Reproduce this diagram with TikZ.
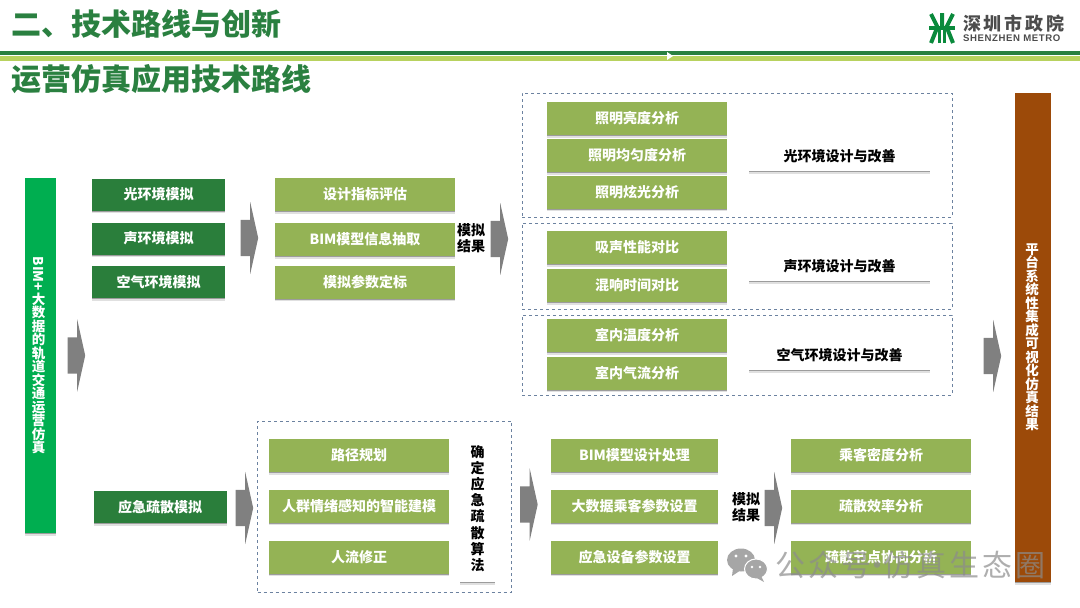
\documentclass[tikz,border=0pt]{standalone}
\usepackage{fontspec}
\setmainfont{Noto Sans CJK SC}
\newfontfamily\wmfont[LetterSpace=10]{Noto Sans CJK SC}
\newfontfamily\logofont[LetterSpace=15]{Noto Sans CJK SC}
\newfontfamily\latinfont[LetterSpace=6]{Liberation Sans}
\usetikzlibrary{shapes.arrows,shadows}
\definecolor{titlegreen}{HTML}{2A8040}
\definecolor{barlight}{HTML}{B8D25E}
\definecolor{darkgreen}{HTML}{2A7E3B}
\definecolor{olive}{HTML}{94B355}
\definecolor{brightgreen}{HTML}{00AE50}
\definecolor{brownbar}{HTML}{9C4A09}
\definecolor{dashblue}{HTML}{6C82A0}
\definecolor{logogreen}{HTML}{0A8A3C}
\tikzset{
  boxshadow/.style={drop shadow={shadow xshift=0pt,shadow yshift=-2.6pt,fill=black,opacity=.12},
    drop shadow={shadow xshift=0pt,shadow yshift=-1.4pt,fill=black,opacity=.3}},
  darkbox/.style={fill=darkgreen,text=white,minimum width=133pt,minimum height=32pt,inner sep=0pt,font=\fontsize{14}{14}\selectfont\bfseries,boxshadow},
  olivebox/.style={fill=olive,text=white,minimum width=180pt,minimum height=33pt,inner sep=0pt,font=\fontsize{14}{14}\selectfont\bfseries,boxshadow},
  whitebox/.style={fill=white,text=black,minimum width=181pt,minimum height=30pt,inner sep=0pt,font=\fontsize{14}{14}\selectfont\bfseries,boxshadow},
  dashbox/.style={draw=dashblue,dashed,line width=.8pt,inner sep=0pt},
  blockarrow/.style={single arrow,fill=black!50,anchor=tail,inner xsep=0pt,inner ysep=18pt,minimum height=17.5pt,single arrow head extend=18pt,single arrow tip angle=155},
  resultlabel/.style={align=center,inner sep=0pt,font=\fontsize{14}{16.5}\selectfont\bfseries},
  logostroke/.style={draw=logogreen,line width=4pt},
  bartext/.style={text=white,inner sep=0pt,align=center,font=\fontsize{13.5}{13.5}\selectfont\bfseries}
}
\begin{document}
\begin{tikzpicture}[x=1pt,y=-1pt]
  \useasboundingbox (0,0) rectangle (1080,608);
  % header
  \node (title) [anchor=west,inner sep=0pt,text=titlegreen,font=\fontsize{30}{30}\selectfont\bfseries] at (11,24) {二、技术路线与创新};
  \node (subtitle) [anchor=west,inner sep=0pt,text=titlegreen,font=\fontsize{30}{30}\selectfont\bfseries] at (11,79) {运营仿真应用技术路线};
  \fill[titlegreen] (0,51) rectangle (1080,54.5);
  \fill[barlight] (0,56) rectangle (1080,60.5);
  \fill[white] (667,52) -- (673,56) -- (667,60) -- cycle;
  % logo
  \draw[logostroke] (929,28) -- (955,28);
  \draw[logostroke] (931,14) -- (938,28) (953,14) -- (946,28) (942,13) -- (942,28);
  \draw[logostroke] (931,43) -- (937,28) (953,43) -- (947,28);
  \draw[logostroke,line width=3pt] (939.5,43) -- (939.5,28) (944.5,43) -- (944.5,28);
  \node (logocn) [anchor=west,inner sep=0pt,text=black!70,font=\logofont\fontsize{18}{18}\selectfont\bfseries] at (963,24) {深圳市政院};
  \node (logoen) [anchor=west,inner sep=0pt,text=black!70,font=\latinfont\fontsize{9.6}{10}\selectfont\bfseries] at (963,38.5) {SHENZHEN METRO};
  % left bar
  \node (mainbar) [fill=brightgreen,minimum width=31pt,minimum height=355pt,inner sep=0pt,boxshadow] at (40,355.5) {};
  \node (maintxt) [bartext] at (38.5,355.5) {\rotatebox{-90}{BIM+}\\[1pt]大\\数\\据\\的\\轨\\道\\交\\通\\运\\营\\仿\\真};
  \node (arrowa) [blockarrow] at (67.5,355.5) {};
  % simulation column
  \node (light) [darkbox] at (158.5,194.5) {光环境模拟};
  \node (sound) [darkbox,below of=light,node distance=44pt] {声环境模拟};
  \node (air) [darkbox,below of=sound,node distance=43.5pt] {空气环境模拟};
  \node (arrowb) [blockarrow] at (240.5,238) {};
  \node (index) [olivebox] at (365,194.5) {设计指标评估};
  \node (model) [olivebox,below of=index,node distance=45pt] {BIM模型信息抽取};
  \node (param) [olivebox,below of=model,node distance=42.5pt] {模拟参数定标};
  \node (resulta) [resultlabel] at (471,238) {模拟\\结果};
  \node (arrowc) [blockarrow] at (490.5,239) {};
  % dashed groups
  \node (groupa) [dashbox,minimum width=430pt,minimum height=124pt] at (737,155) {};
  \node (groupb) [dashbox,minimum width=430pt,minimum height=86pt] at (737,266) {};
  \node (groupc) [dashbox,minimum width=430pt,minimum height=80pt] at (737,355) {};
  \node (lum) [olivebox] at (637,118.5) {照明亮度分析};
  \node (even) [olivebox,below of=lum,node distance=37pt] {照明均匀度分析};
  \node (glare) [olivebox,below of=even,node distance=36.5pt] {照明炫光分析};
  \node (absorb) [olivebox] at (637,247.5) {吸声性能对比};
  \node (reverb) [olivebox,below of=absorb,node distance=38pt] {混响时间对比};
  \node (temp) [olivebox] at (637,335.5) {室内温度分析};
  \node (flow) [olivebox,below of=temp,node distance=37.5pt] {室内气流分析};
  \node (lightdes) [whitebox] at (839.5,156) {光环境设计与改善};
  \node (sounddes) [whitebox] at (839.5,266) {声环境设计与改善};
  \node (airdes) [whitebox] at (839.5,355) {空气环境设计与改善};
  \node (arrowd) [blockarrow] at (983.5,356) {};
  % right bar
  \node (platform) [fill=brownbar,minimum width=36pt,minimum height=489pt,inner sep=0pt,boxshadow] at (1033,337.5) {};
  \node (platformtxt) [bartext] at (1032,337.5) {平\\台\\系\\统\\性\\集\\成\\可\\视\\化\\仿\\真\\结\\果};
  % evacuation row
  \node (evac) [darkbox] at (160,507) {应急疏散模拟};
  \node (arrowe) [blockarrow] at (235.5,508) {};
  \node (groupd) [dashbox,minimum width=254pt,minimum height=171pt] at (384.5,506.5) {};
  \node (route) [olivebox] at (359,455.5) {路径规划};
  \node (crowd) [olivebox,below of=route,node distance=50.5pt] {人群情绪感知的智能建模};
  \node (fix) [olivebox,below of=crowd,node distance=51pt] {人流修正};
  \node (algo) [fill=white,minimum width=35pt,minimum height=147pt,inner sep=0pt,align=center,font=\fontsize{14}{16.2}\selectfont\bfseries,boxshadow] at (477.5,508.5) {确\\定\\应\\急\\疏\\散\\算\\法};
  \node (arrowf) [blockarrow] at (520,504.5) {};
  \node (bimset) [olivebox,minimum width=167pt] at (634.5,455.5) {BIM模型设计处理};
  \node (passet) [olivebox,minimum width=167pt,below of=bimset,node distance=50.5pt] {大数据乘客参数设置};
  \node (equip) [olivebox,minimum width=167pt,below of=passet,node distance=51pt] {应急设备参数设置};
  \node (resultb) [resultlabel] at (746,507) {模拟\\结果};
  \node (arrowg) [blockarrow] at (764.5,508) {};
  \node (density) [olivebox] at (881,455.5) {乘客密度分析};
  \node (effic) [olivebox,below of=density,node distance=50.5pt] {疏散效率分析};
  \node (nodes) [olivebox,below of=effic,node distance=51pt] {疏散节点协同分析};
  % watermark
  \fill[black!35] (741,560) ellipse (14pt and 11.5pt) (733,568) -- (732,576) -- (741,570) -- cycle;
  \fill[black!35,draw=white,line width=1pt] (756,569) ellipse (11.5pt and 10pt);
  \fill[black!35] (761,576) -- (764,582) -- (755,577) -- cycle;
  \fill[white] (736,556) circle (1.7pt) (746,556) circle (1.7pt) (752,567) circle (1.4pt) (760,567) circle (1.4pt);
  \node (wmark) [anchor=west,inner sep=0pt,text=black!45,opacity=.7,font=\wmfont\fontsize{30}{30}\selectfont] at (775,565) {公众号\hspace{-9pt}·\hspace{-9pt}仿真生态圈};
\end{tikzpicture}
\end{document}
